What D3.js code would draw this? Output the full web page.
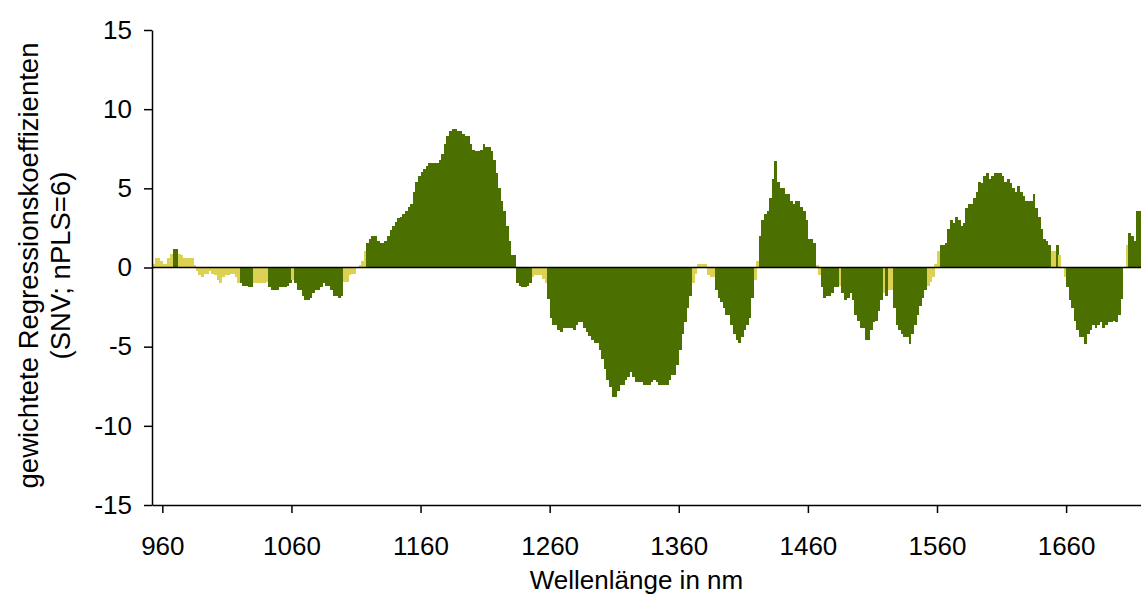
<!DOCTYPE html>
<html><head><meta charset="utf-8">
<script src="https://cdn.jsdelivr.net/npm/d3@7/dist/d3.min.js"></script>
<style>
html,body{margin:0;padding:0;background:#fff;}
svg text{font-family:"Liberation Sans",Arial,sans-serif;fill:#000;}
</style></head>
<body>
<svg id="chart" width="1141" height="596"></svg>
<script>
// Wavelength of first bar (nm) and spacing of the spectrum
const firstWavelength = 953;
const wavelengthStep = 2;

// weighted regression coefficients, one per wavelength
const coefficients = [
 0.23,0.57,0.57,0.44,0.25,0.25,0.57,0.88,1.2,1.2,
 0.88,0.76,0.57,0.57,0.57,0.57,0.13,-0.19,-0.5,-0.63,
 -0.38,-0.38,-0.19,-0.38,-0.5,-0.82,-0.99,-0.63,-0.5,-0.5,
 -0.38,-0.38,-0.63,-1.0,-1.0,-1.14,-1.14,-1.26,-1.26,-1.0,
 -1.0,-1.0,-1.0,-1.0,-0.9,-1.26,-1.45,-1.45,-1.45,-1.26,
 -1.26,-1.26,-1.14,-1.0,-0.82,-1.0,-1.45,-1.45,-1.77,-2.08,
 -2.08,-1.9,-1.6,-1.45,-1.45,-1.2,-1.0,-1.14,-1.14,-1.45,
 -1.77,-1.77,-1.9,-1.77,-0.9,-0.9,-0.5,-0.38,-0.38,0.0,
 0.13,0.44,1.07,1.52,1.83,2.02,2.02,1.7,1.52,1.52,
 1.7,2.02,2.34,2.59,2.9,3.1,3.22,3.41,3.54,3.85,
 4.04,4.8,5.43,5.75,6.06,6.19,6.38,6.57,6.57,6.57,
 6.57,6.8,7.2,7.77,8.28,8.59,8.72,8.72,8.59,8.59,
 8.45,8.28,8.28,7.77,7.45,7.33,7.33,7.45,7.77,7.64,
 7.64,7.33,6.82,6.0,5.0,4.17,3.54,2.59,1.7,0.76,
 0.76,-1.0,-1.14,-1.26,-1.26,-1.14,-1.0,-0.57,-0.5,-0.5,
 -0.5,-0.7,-1.0,-2.0,-3.16,-3.6,-3.6,-3.92,-4.1,-3.79,
 -3.79,-3.79,-3.79,-3.92,-3.6,-3.47,-3.47,-3.79,-4.1,-4.3,
 -4.55,-4.74,-4.74,-5.18,-5.81,-6.44,-7.08,-7.52,-8.15,-8.15,
 -7.83,-7.39,-7.39,-7.08,-6.9,-6.63,-6.9,-7.2,-7.2,-7.2,
 -7.39,-7.39,-7.39,-7.2,-7.08,-7.2,-7.39,-7.39,-7.39,-7.39,
 -7.08,-6.76,-6.76,-6.13,-5.18,-4.23,-3.47,-2.53,-1.77,-1.0,
 -0.38,0.25,0.25,0.25,0.25,-0.5,-0.63,-0.63,-1.45,-1.9,
 -2.2,-2.53,-3.03,-3.03,-3.6,-4.23,-4.55,-4.74,-4.42,-3.92,
 -3.6,-3.16,-1.9,-0.82,0.44,2.02,2.97,3.41,3.54,4.36,
 5.56,6.7,5.43,4.99,4.99,4.67,4.67,4.17,4.04,4.17,
 4.17,3.85,3.54,2.97,1.83,1.83,1.52,0.13,-0.5,-1.26,
 -1.9,-1.77,-1.77,-1.58,-1.26,-1.26,-1.14,-1.58,-2.08,-1.9,
 -1.58,-2.08,-3.03,-3.35,-3.79,-3.79,-4.55,-4.55,-3.92,-3.47,
 -3.35,-2.72,-2.08,-1.58,-1.77,-1.45,-1.45,-2.53,-3.6,-3.92,
 -4.23,-4.42,-4.42,-4.86,-4.23,-3.6,-3.0,-2.4,-1.9,-1.45,
 -1.14,-0.9,-0.63,0.25,1.07,1.39,1.39,1.52,2.46,2.97,
 2.78,3.22,3.03,2.59,2.78,3.73,4.04,4.04,4.36,4.8,
 5.43,5.31,5.75,5.94,5.56,5.75,5.94,5.94,5.94,5.75,
 5.43,5.56,5.31,4.99,4.8,5.12,4.8,4.49,4.17,4.17,
 4.17,4.67,3.73,3.22,2.46,1.83,1.7,1.39,1.07,1.07,
 1.39,0.76,0.0,-0.63,-1.26,-2.08,-2.53,-3.35,-3.92,-4.42,
 -4.42,-4.86,-4.23,-3.92,-3.6,-3.79,-3.6,-3.47,-3.79,-3.6,
 -3.47,-3.47,-3.35,-3.47,-3.0,-2.0,0.0,1.39,2.15,2.02,
 1.7,3.54,3.54
];

// 1 = significant (dark green), 0 = not significant (yellow)
const significant = [
 0,0,0,0,0,0,0,0,1,1,
 0,0,0,0,0,0,0,0,0,0,
 0,0,0,0,0,0,0,0,0,0,
 0,0,0,0,1,1,1,1,1,0,
 0,0,0,0,0,1,1,1,1,1,
 1,1,1,1,0,1,1,1,1,1,
 1,1,1,1,1,1,1,1,1,1,
 1,1,1,1,0,0,0,0,0,0,
 0,0,0,1,1,1,1,1,1,1,
 1,1,1,1,1,1,1,1,1,1,
 1,1,1,1,1,1,1,1,1,1,
 1,1,1,1,1,1,1,1,1,1,
 1,1,1,1,1,1,1,1,1,1,
 1,1,1,1,1,1,1,1,1,1,
 1,1,1,1,1,1,1,0,0,0,
 0,0,0,1,1,1,1,1,1,1,
 1,1,1,1,1,1,1,1,1,1,
 1,1,1,1,1,1,1,1,1,1,
 1,1,1,1,1,1,1,1,1,1,
 1,1,1,1,1,1,1,1,1,1,
 1,1,1,1,1,1,1,1,1,0,
 0,0,0,0,0,0,0,0,1,1,
 1,1,1,1,1,1,1,1,1,1,
 1,1,1,0,0,1,1,1,1,1,
 1,1,1,1,1,1,1,1,1,1,
 1,1,1,1,1,1,1,0,0,1,
 1,1,1,1,1,1,0,1,1,1,
 1,1,1,1,1,1,1,1,1,1,
 1,1,1,0,1,0,0,1,1,1,
 1,1,1,1,1,1,1,1,1,1,
 0,0,0,0,0,1,1,1,1,1,
 1,1,1,1,1,1,1,1,1,1,
 1,1,1,1,1,1,1,1,1,1,
 1,1,1,1,1,1,1,1,1,1,
 1,1,1,1,1,1,1,1,0,0,
 1,0,0,0,1,1,1,1,1,1,
 1,1,1,1,1,1,1,1,1,1,
 1,1,1,1,1,1,0,0,1,1,
 1,1,1
];

const xTickValues = [960,1060,1160,1260,1360,1460,1560,1660];
const yTickValues = [-15,-10,-5,0,5,10,15];
const xTitle = "Wellenlänge in nm";
const yTitleLines = ["gewichtete Regressionskoeffizienten","(SNV; nPLS=6)"];

(function draw(){
const colSig = "#4b7000", colNon = "#dcd152";
const data = coefficients.map((v,i)=>({w:firstWavelength+i*wavelengthStep, v, s:significant[i]}));

const svg = d3.select("#chart");
const mLeft = 152, mRight = 1141, mTop = 30, mBottom = 505;
const x = d3.scaleLinear().domain([952,1718]).range([mLeft,mRight]);
const y = d3.scaleLinear().domain([-15,15]).range([mBottom,mTop]);

svg.append("g").attr("shape-rendering","crispEdges")
 .selectAll("rect").data(data).join("rect")
 .attr("x",d=>x(d.w-wavelengthStep/2))
 .attr("width",d=>x(d.w+wavelengthStep/2)-x(d.w-wavelengthStep/2)+0.3)
 .attr("y",d=>y(Math.max(0,d.v)))
 .attr("height",d=>Math.abs(y(d.v)-y(0)))
 .attr("fill",d=>d.s?colSig:colNon);

svg.append("line").attr("x1",mLeft).attr("x2",mRight).attr("y1",y(0)).attr("y2",y(0))
 .attr("stroke","#000").attr("stroke-width",1.5);

const fs = "26px";
const fmt = d => String(d);
const yAxis = svg.append("g").attr("transform",`translate(${mLeft},0)`)
 .call(d3.axisLeft(y).tickValues(yTickValues).tickFormat(fmt).tickSize(8).tickPadding(12).tickSizeOuter(0));
const xAxis = svg.append("g").attr("transform",`translate(0,${mBottom})`)
 .call(d3.axisBottom(x).tickValues(xTickValues).tickFormat(fmt).tickSize(8).tickPadding(24).tickSizeOuter(0));
[yAxis,xAxis].forEach(a=>{
  a.selectAll("path,line").attr("stroke","#000").attr("stroke-width",1.5);
  a.selectAll("text").style("font-size",fs).attr("fill","#000");
});

svg.append("text").attr("x",(mLeft+mRight)/2-10).attr("y",589).attr("text-anchor","middle")
 .style("font-size",fs).text(xTitle);
yTitleLines.forEach((t,i)=>{
  svg.append("text").attr("transform",`translate(${38+i*32},${y(0)-2}) rotate(-90)`)
   .attr("text-anchor","middle").style("font-size","27.5px").text(t);
});
})();
</script>
</body></html>
